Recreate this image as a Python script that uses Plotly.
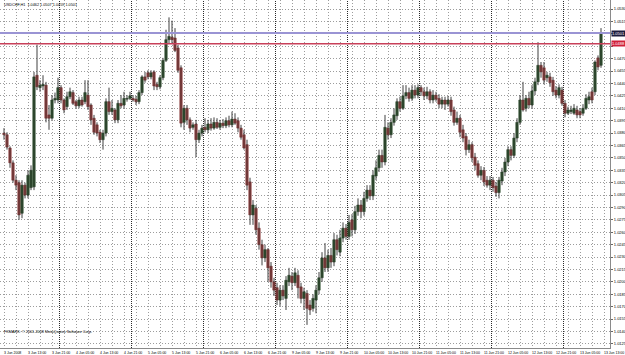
import plotly.graph_objects as go

# ---- data (USDCHF H1, prices in 1/10000) ----
opens = [10380,10378,10362,10344,10323,10320,10283,10317,10305,10314,10315,10450,10435,10437,10438,10402,10398,10420,10420,10435,
         10420,10412,10424,10429,10418,10413,10420,10418,10426,10414,10398,10390,10381,10372,10380,10418,10406,10408,10396,10416,
         10414,10421,10422,10422,10421,10418,10429,10448,10453,10448,10454,10439,10436,10447,10468,10493,10496,10495,10483,10459,
         10393,10410,10396,10387,10391,10372,10380,10387,10384,10391,10386,10393,10387,10392,10389,10395,10390,10397,10395,10386,
         10378,10366,10321,10281,10289,10265,10245,10229,10239,10219,10200,10193,10178,10190,10180,10200,10207,10199,10208,10194,
         10180,10186,10172,10168,10178,10190,10205,10229,10217,10232,10224,10251,10236,10253,10265,10255,10275,10263,10285,10293,
         10285,10301,10311,10304,10328,10338,10353,10345,10386,10378,10393,10401,10418,10410,10425,10429,10422,10432,10426,10435,
         10430,10425,10430,10420,10426,10422,10415,10420,10415,10420,10408,10393,10398,10384,10376,10360,10366,10351,10343,10329,
         10335,10323,10317,10323,10316,10308,10322,10333,10345,10360,10353,10374,10393,10420,10410,10422,10414,10431,10442,10462,
         10459,10447,10448,10444,10432,10426,10432,10416,10404,10406,10404,10408,10406,10404,10410,10420,10430,10430,10471,10462]
highs = [10386,10381,10364,10347,10329,10323,10323,10320,10335,10341,10454,10487,10444,10450,10442,10414,10426,10429,10447,10438,
         10422,10430,10435,10432,10420,10424,10424,10444,10444,10416,10402,10393,10384,10384,10422,10435,10420,10410,10420,10426,
         10430,10426,10430,10426,10425,10432,10450,10454,10456,10456,10456,10442,10450,10471,10505,10520,10516,10507,10487,10462,
         10414,10414,10399,10393,10396,10384,10390,10398,10396,10398,10399,10398,10396,10397,10399,10401,10406,10404,10399,10390,
         10384,10372,10326,10299,10293,10272,10251,10245,10241,10224,10205,10199,10196,10196,10207,10217,10212,10217,10214,10199,
         10193,10190,10178,10185,10196,10212,10236,10247,10239,10241,10259,10257,10263,10272,10270,10281,10282,10292,10301,10299,
         10309,10317,10317,10335,10347,10360,10360,10402,10393,10398,10410,10422,10424,10438,10438,10435,10438,10438,10439,10438,
         10435,10436,10433,10432,10430,10427,10424,10424,10425,10424,10412,10406,10402,10390,10380,10372,10369,10356,10347,10340,
         10339,10328,10328,10327,10321,10327,10338,10350,10364,10364,10380,10398,10426,10442,10426,10430,10438,10447,10490,10466,
         10466,10454,10453,10448,10437,10439,10436,10420,10412,10413,10415,10413,10410,10415,10427,10430,10435,10468,10474,10507]
lows = [10372,10360,10338,10320,10311,10275,10277,10301,10301,10311,10311,10432,10430,10432,10393,10384,10396,10416,10416,10416,
        10404,10408,10421,10414,10410,10410,10412,10415,10408,10390,10378,10376,10368,10360,10376,10402,10402,10392,10392,10410,
        10410,10418,10420,10418,10414,10415,10426,10441,10445,10445,10432,10432,10433,10444,10466,10489,10488,10478,10453,10387,
        10384,10390,10381,10384,10351,10368,10376,10381,10380,10383,10384,10385,10384,10386,10386,10387,10387,10390,10381,10372,
        10360,10311,10269,10269,10257,10239,10220,10224,10200,10193,10183,10172,10171,10178,10166,10195,10190,10195,10180,10174,
        10166,10148,10160,10164,10162,10185,10200,10212,10212,10217,10219,10232,10231,10248,10251,10251,10255,10258,10280,10277,
        10280,10297,10299,10299,10323,10333,10338,10341,10372,10374,10389,10396,10406,10408,10421,10418,10419,10422,10422,10425,
        10420,10421,10416,10416,10418,10410,10410,10408,10412,10401,10389,10390,10375,10369,10353,10356,10345,10335,10326,10323,
        10316,10314,10311,10309,10303,10301,10317,10328,10340,10347,10350,10369,10390,10406,10406,10410,10410,10426,10438,10447,
        10439,10442,10436,10425,10422,10422,10413,10399,10402,10403,10402,10398,10398,10401,10408,10415,10416,10426,10456,10459]
closes = [10378,10363,10344,10323,10317,10281,10317,10305,10329,10335,10448,10436,10438,10439,10398,10398,10420,10422,10435,10420,
          10408,10424,10430,10416,10413,10420,10414,10429,10412,10396,10381,10380,10372,10380,10418,10406,10410,10396,10416,10413,
          10422,10422,10425,10420,10418,10429,10448,10444,10448,10453,10437,10436,10447,10468,10493,10497,10493,10480,10456,10392,
          10410,10396,10386,10390,10372,10380,10386,10384,10391,10386,10393,10387,10392,10389,10395,10390,10397,10392,10386,10375,
          10362,10317,10281,10293,10263,10245,10229,10239,10217,10200,10190,10178,10190,10183,10202,10208,10199,10211,10193,10180,
          10188,10168,10166,10180,10190,10205,10229,10217,10232,10224,10251,10239,10253,10265,10255,10272,10263,10285,10293,10285,
          10301,10311,10304,10329,10338,10353,10345,10387,10378,10393,10402,10418,10410,10425,10429,10422,10432,10426,10435,10430,
          10425,10430,10420,10426,10421,10415,10420,10415,10420,10406,10393,10398,10381,10374,10360,10366,10350,10341,10329,10335,
          10321,10317,10323,10314,10308,10323,10333,10345,10360,10353,10374,10393,10420,10408,10422,10414,10431,10442,10462,10454,
          10444,10450,10441,10430,10426,10435,10416,10404,10408,10408,10410,10402,10402,10410,10422,10424,10420,10466,10460,10501]

symbol_title = "USDCHF,H1  1.0462 1.0507 1.0459 1.0501"
price_ticks = [10125 + 15 * k for k in range(28)]          # 1.0125 ... 1.0530
time_tick_bars = [0, 8, 16, 24, 32, 40, 48, 56, 64, 72, 80, 88, 96, 104, 112, 120, 128, 136, 144, 152, 160, 168, 176, 184, 192, 200]
time_tick_labels = ["3 Jun 2008", "3 Jun 13:00", "3 Jun 21:00", "4 Jun 05:00", "4 Jun 13:00", "4 Jun 21:00",
                    "5 Jun 05:00", "5 Jun 13:00", "5 Jun 21:00", "6 Jun 05:00", "6 Jun 13:00", "6 Jun 21:00",
                    "9 Jun 05:00", "9 Jun 13:00", "9 Jun 21:00", "10 Jun 05:00", "10 Jun 13:00", "10 Jun 21:00",
                    "11 Jun 05:00", "11 Jun 13:00", "11 Jun 21:00", "12 Jun 05:00", "12 Jun 13:00", "12 Jun 21:00",
                    "13 Jun 05:00", "13 Jun 13:00"]
day_start_bars = [19, 43, 67, 91, 115, 139, 163, 187]
bid_level = 10501
line_level = 10488
copyright_text = "FXMARK: © 2001-2008 MetaQuotes Software Corp."

S = 10000.0
o = [v / S for v in opens]
h = [v / S for v in highs]
l = [v / S for v in lows]
c = [v / S for v in closes]
xs = list(range(len(o)))

W, H = 625, 355
ML, MR, MT, MB = 0, 15, 0, 7
plot_h = H - MT - MB
px_price = 0.0015 / 12.4
y_top = 1.0541
y_bot = y_top - plot_h * px_price

BULL_FILL, BEAR_FILL = "#1a521a", "#b03636"
BULL_EDGE, BEAR_EDGE = "#0e2a0e", "#641a1a"
WICK = "#404040"
GRID = "#9c9c9c"

fig = go.Figure()

# wicks
wx, wy = [], []
for i in xs:
    wx += [i, i, None]
    wy += [l[i], h[i], None]
fig.add_trace(go.Scatter(x=wx, y=wy, mode="lines", line=dict(color=WICK, width=1),
                         hoverinfo="skip", showlegend=False))

# bodies
base = [min(a, b) for a, b in zip(o, c)]
size = [max(abs(b - a), 0.6 * px_price) for a, b in zip(o, c)]
bull = [b >= a for a, b in zip(o, c)]
fig.add_trace(go.Bar(x=xs, y=size, base=base, width=0.8,
                     marker=dict(color=[BULL_FILL if u else BEAR_FILL for u in bull],
                                 line=dict(color=[BULL_EDGE if u else BEAR_EDGE for u in bull], width=0.5)),
                     hoverinfo="skip", showlegend=False))

shapes = []
for b in day_start_bars:
    shapes.append(dict(type="line", xref="x", yref="paper", x0=b - 0.5, x1=b - 0.5, y0=0, y1=1,
                       line=dict(color="#2a2a2a", width=1, dash="1px,1px"), layer="below"))
shapes.append(dict(type="line", xref="paper", yref="y", x0=0, x1=1, y0=bid_level / S, y1=bid_level / S,
                   line=dict(color="#9a94d4", width=2)))
shapes.append(dict(type="line", xref="paper", yref="y", x0=0, x1=1, y0=line_level / S, y1=line_level / S,
                   line=dict(color="#c8405a", width=1.5)))

FONT = "Liberation Sans"
ann = []
for b, t in zip(time_tick_bars, time_tick_labels):
    ann.append(dict(x=b - 0.7, xref="x", y=-4.5 / plot_h, yref="paper", text=t, showarrow=False,
                    xanchor="left", yanchor="middle", font=dict(size=3.5, color="#000", family=FONT)))
ann.append(dict(x=0.003, xref="paper", y=1 - 5 / plot_h, yref="paper", text=symbol_title, showarrow=False,
                xanchor="left", yanchor="middle", font=dict(size=3.8, color="#000", family=FONT)))
ann.append(dict(x=0.003, xref="paper", y=16 / plot_h, yref="paper", text=copyright_text, showarrow=False,
                xanchor="left", yanchor="middle", font=dict(size=3.8, color="#000", family=FONT)))
ann.append(dict(x=1.0, xref="paper", xshift=1, y=bid_level / S, yref="y", text=f"{bid_level / S:.4f}", showarrow=False,
                xanchor="left", yanchor="middle", bgcolor="#1c1c3c", borderpad=0,
                font=dict(size=4, color="#ffffff", family=FONT)))
ann.append(dict(x=1.0, xref="paper", xshift=1, y=line_level / S, yref="y", text=f"{line_level / S:.4f}", showarrow=False,
                xanchor="left", yanchor="middle", bgcolor="#d0203a", borderpad=0,
                font=dict(size=4, color="#ffffff", family=FONT)))

# axis labels hidden where the price boxes cover them
shown_ticks = [v for v in price_ticks if abs(v - bid_level) > 6 and abs(v - line_level) > 6]

fig.update_layout(
    width=W, height=H, margin=dict(l=ML, r=MR, t=MT, b=MB),
    paper_bgcolor="#ffffff", plot_bgcolor="#ffffff",
    shapes=shapes, annotations=ann, showlegend=False, barmode="overlay",
    xaxis=dict(range=[-1.333, 202], showticklabels=False,
               tick0=0, dtick=4, showgrid=True, gridcolor=GRID, griddash="1px,2px", gridwidth=1,
               zeroline=False, showline=True, linecolor="#8a8a8a", linewidth=1, ticks="", automargin=False),
    yaxis=dict(range=[y_bot, y_top], side="right", tickvals=[v / S for v in price_ticks],
               ticktext=[f"{v / S:.4f}" if v in shown_ticks else "" for v in price_ticks],
               tickfont=dict(size=4, color="#000", family=FONT),
               showgrid=True, gridcolor=GRID, griddash="1px,2px", gridwidth=1, zeroline=False,
               showline=True, linecolor="#8a8a8a", linewidth=1, ticks="outside", ticklen=2, tickcolor="#666",
               automargin=False),
)

fig.write_html("out.html")
